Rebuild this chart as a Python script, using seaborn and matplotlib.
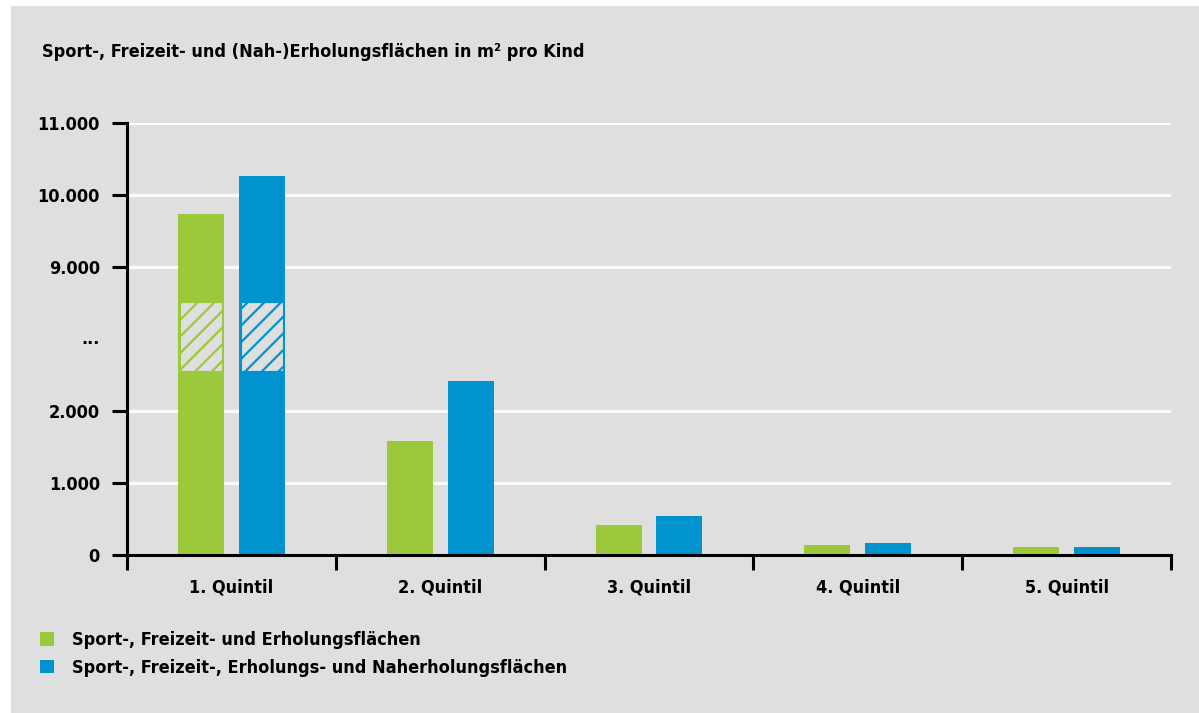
import numpy as np
import pandas as pd
import matplotlib
matplotlib.use("Agg")
import matplotlib.pyplot as plt
from matplotlib.patches import Rectangle
import seaborn as sns

# Data (m² per child)
quintile = ["1. Quintil", "2. Quintil", "3. Quintil", "4. Quintil", "5. Quintil"]
sport_freizeit = [9730, 1590, 420, 140, 110]
sport_nah = [10270, 2410, 540, 170, 110]
series_names = ["Sport-, Freizeit- und Erholungsflächen",
                "Sport-, Freizeit-, Erholungs- und Naherholungsflächen"]
y_ticks = [0, 1000, 2000, 5500, 9000, 10000, 11000]
y_tick_labels = ["0", "1.000", "2.000", "...", "9.000", "10.000", "11.000"]

GREEN = "#9BC93B"
BLUE = "#0093CF"
BG = "#DFDFDF"

df = pd.DataFrame({
    "quintil": quintile * 2,
    "wert": sport_freizeit + sport_nah,
    "serie": [series_names[0]] * 5 + [series_names[1]] * 5,
})

# broken axis: linear below BRK_LO and above BRK_HI, the gap squeezed in between
BRK_LO, BRK_HI = 2550, 8510
P_LO, P_HI = BRK_LO / 1000, BRK_HI / 1000 - 5


def fwd(v):
    v = np.asarray(v, dtype=float)
    mid = P_LO + (v - BRK_LO) / (BRK_HI - BRK_LO) * (P_HI - P_LO)
    return np.where(v <= BRK_LO, v / 1000, np.where(v < BRK_HI, mid, v / 1000 - 5))


def inv(p):
    p = np.asarray(p, dtype=float)
    mid = BRK_LO + (p - P_LO) / (P_HI - P_LO) * (BRK_HI - BRK_LO)
    return np.where(p <= P_LO, p * 1000, np.where(p < P_HI, mid, (p + 5) * 1000))


sns.set_theme(style="white")
plt.rcParams['font.family'] = ['DejaVu Sans']
plt.rcParams['font.stretch'] = 'condensed'
plt.rcParams['font.weight'] = 'bold'
plt.rcParams['text.color'] = 'black'
plt.rcParams['hatch.linewidth'] = 1.6

fig = plt.figure(figsize=(11.99, 7.13), dpi=100, facecolor="white")
fig.patches.append(Rectangle((11 / 1199, 0.0), 1 - 11 / 1199, 1 - 6 / 713,
                             transform=fig.transFigure, facecolor=BG,
                             edgecolor="none", zorder=-10))
ax = fig.add_axes([127 / 1199, 1 - 555 / 713, (1171 - 127) / 1199, (555 - 123) / 713])
ax.set_facecolor(BG)

sns.barplot(data=df, x="quintil", y="wert", hue="serie",
            palette=[GREEN, BLUE], width=0.584, gap=0.246,
            saturation=1, linewidth=0, ax=ax, zorder=3)

ax.set_yscale("function", functions=(fwd, inv))
ax.set_ylim(0, 11000)
ax.set_xlim(-0.5, 4.5)

# y axis
ax.set_yticks(y_ticks)
ax.set_yticklabels(y_tick_labels)
ax.yaxis.set_minor_locator(matplotlib.ticker.NullLocator())
ax.tick_params(axis="y", length=11, width=2.2, pad=8.5, labelsize=13,
               colors="black", left=True)
ax.grid(axis="y", color="white", linewidth=2.0, zorder=1)
ax.set_axisbelow(True)
ax.yaxis.get_major_ticks()[3].tick1line.set_visible(False)
ax.yaxis.get_gridlines()[3].set_visible(False)

# x axis: ticks on category boundaries
ax.set_xticks(np.arange(len(quintile)))
ax.set_xticklabels(quintile)
ax.set_xticks(np.arange(-0.5, len(quintile)), minor=True)
ax.tick_params(axis="x", which="major", length=0, pad=17, labelsize=13,
               labelcolor="black")
ax.tick_params(axis="x", which="minor", length=11, width=2.2, bottom=True,
               direction="out", color="black")
ax.set_xlabel("")
ax.set_ylabel("")

for side in ["top", "right"]:
    ax.spines[side].set_visible(False)
for side in ["left", "bottom"]:
    ax.spines[side].set_linewidth(2.2)
    ax.spines[side].set_color("black")
    ax.spines[side].set_zorder(5)

# hatched break marker on the first quintile bars
bars = [p for p in ax.patches if isinstance(p, Rectangle) and p.get_height() > BRK_HI]
for bar, col in zip(bars, [GREEN, BLUE]):
    x0 = bar.get_x() + 0.01
    w = bar.get_width() - 0.02
    ax.add_patch(Rectangle((x0, BRK_LO), w, BRK_HI - BRK_LO, facecolor=BG,
                           edgecolor=col, hatch="//", linewidth=0.8, zorder=4))

# legend
sns.move_legend(ax, "upper left", bbox_to_anchor=(33 / 1199, 1 - 624 / 713),
                bbox_transform=fig.transFigure, frameon=False, title=None,
                fontsize=13, handlelength=0.75, handleheight=0.75,
                handletextpad=1.0, labelspacing=0.55, borderaxespad=0)
for t in ax.get_legend().get_texts():
    t.set_color("black")

fig.text(42 / 1199, 1 - 52 / 713,
         "Sport-, Freizeit- und (Nah-)Erholungsflächen in m² pro Kind",
         fontsize=13, fontweight="bold", va="center", ha="left")

fig.savefig("out.png", dpi=100, facecolor="white")
